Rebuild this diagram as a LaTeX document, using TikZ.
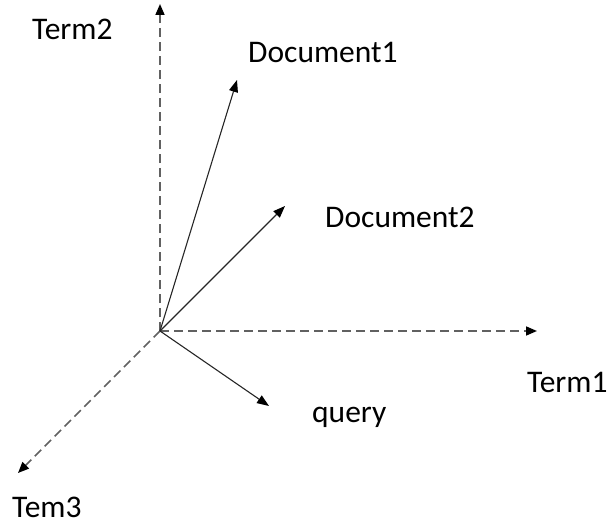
\documentclass[tikz,border=0pt]{standalone}
\usepackage{fontspec}
\setmainfont{Carlito}
\usetikzlibrary{arrows.meta}
\begin{document}
\begin{tikzpicture}[x=1pt,y=-1pt,
  axis/.style={draw=black!62,line width=1.7pt,dash pattern=on 9pt off 5pt,
    -{Triangle[length=11pt,width=9pt,color=black]}},
  vec/.style={draw=black!85,line width=1.1pt,
    -{Triangle[length=12pt,width=9pt,color=black]}},
  lbl/.style={anchor=base west,inner sep=0pt,font=\fontsize{31.5}{38}\selectfont}]
\useasboundingbox (0,0) rectangle (610,524);
% origin and end points
\coordinate (o) at (160,331);
\coordinate (t1) at (537,331);
\coordinate (t2) at (160,4);
\coordinate (t3) at (18,473);
\coordinate (d1) at (237,80);
\coordinate (d2) at (285,206);
\coordinate (q) at (269,406);
% axes
\draw[axis] (o) -- (t1);
\draw[axis] (o) -- (t2);
\draw[axis] (o) -- (t3);
% vectors
\draw[vec] (o) -- (d1);
\draw[vec] (o) -- (d2);
\draw[vec] (o) -- (q);
% labels
\node[lbl] (lt2) at (32,40) {Term2};
\node[lbl] (ld1) at (248,63) {Document1};
\node[lbl] (ld2) at (325,227) {Document2};
\node[lbl] (lt1) at (527,392) {Term1};
\node[lbl] (lq) at (312,422) {query};
\node[lbl] (lt3) at (12,517) {Tem3};
\end{tikzpicture}
\end{document}
